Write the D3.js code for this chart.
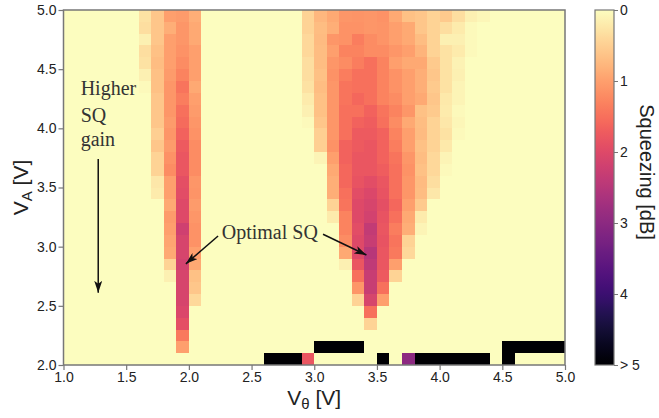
<!DOCTYPE html>
<html><head><meta charset="utf-8">
<script src="https://cdn.jsdelivr.net/npm/d3@7/dist/d3.min.js"></script>
<style>body{margin:0;background:#fff}svg{display:block}</style>
</head><body>
<svg id="chart" width="659" height="418"></svg>
<script>
// ---- data ----
// cell left edges of V_theta (V)
const vTheta = [1.0,1.1,1.2,1.3,1.4,1.5,1.6,1.7,1.8,1.9,2.0,2.1,2.2,2.3,2.4,2.5,2.6,2.7,2.8,2.9,
                3.0,3.1,3.2,3.3,3.4,3.5,3.6,3.7,3.8,3.9,4.0,4.1,4.2,4.3,4.4,4.5,4.6,4.7,4.8,4.9];
// cell bottom edges of V_A (V), listed top row first
const vA = [4.9,4.8,4.7,4.6,4.5,4.4,4.3,4.2,4.1,4.0,3.9,3.8,3.7,3.6,3.5,3.4,3.3,3.2,3.1,3.0,
            2.9,2.8,2.7,2.6,2.5,2.4,2.3,2.2,2.1,2.0];
const cellStep = 0.1;

// left lobe: columns V_theta = 1.6 .. 2.0, rows from V_A = 4.9 downward
const leftLobeCols = [1.6,1.7,1.8,1.9,2.0];
const leftLobe = [
  [0.30,0.60,1.00,1.05,0.85],
  [0.35,0.60,0.85,1.10,0.90],
  [0.15,0.60,1.00,1.10,0.90],
  [0.35,0.65,1.00,1.15,1.00],
  [0.30,0.70,1.00,1.20,1.00],
  [0.15,0.65,1.05,1.30,1.00],
  [0.05,0.65,1.10,1.45,0.90],
  [0.00,0.60,1.10,1.35,1.00],
  [0.00,0.60,1.10,1.50,1.05],
  [0.00,0.60,1.05,1.55,1.10],
  [0.00,0.50,1.10,1.65,1.15],
  [0.00,0.60,1.05,1.75,1.20],
  [0.00,0.45,1.15,1.80,1.20],
  [0.00,0.45,1.20,1.80,1.20],
  [0.00,0.25,1.00,1.90,1.10],
  [0.00,0.20,1.00,1.95,1.12],
  [0.00,0.00,0.90,2.00,1.05],
  [0.00,0.00,1.05,2.00,1.10],
  [0.00,0.00,1.00,2.20,1.15],
  [0.00,0.00,0.95,2.10,1.15],
  [0.00,0.00,0.90,2.10,1.00],
  [0.00,0.00,0.45,2.15,0.90],
  [0.00,0.00,0.15,2.10,0.65],
  [0.00,0.00,0.00,2.10,0.60],
  [0.00,0.00,0.00,2.10,0.40],
  [0.00,0.00,0.00,2.05,0.00],
  [0.00,0.00,0.00,1.90,0.00],
  [0.00,0.00,0.00,1.40,0.00],
  [0.00,0.00,0.00,1.00,0.00]
];

// right lobe: columns V_theta = 2.9 .. 4.3, rows from V_A = 4.9 downward
const rightLobeCols = [2.9,3.0,3.1,3.2,3.3,3.4,3.5,3.6,3.7,3.8,3.9,4.0,4.1,4.2,4.3];
const rightLobe = [
  [0.45,0.75,0.90,1.10,1.12,1.10,1.15,0.90,0.65,0.60,0.45,0.55,0.35,0.15,0.08],
  [0.45,0.70,0.85,1.15,1.15,1.10,1.12,1.00,0.90,0.60,0.45,0.35,0.20,0.05,0],
  [0.40,0.72,1.10,1.15,1.35,1.20,1.12,1.00,0.90,0.70,0.45,0.15,0.15,0.05,0],
  [0.40,0.70,1.00,1.30,1.30,1.20,1.20,1.10,1.00,0.80,0.45,0.30,0.20,0.05,0],
  [0.35,0.70,1.10,1.20,1.35,1.50,1.30,1.00,0.90,0.90,0.55,0.30,0.12,0,0],
  [0.35,0.65,1.15,1.35,1.50,1.50,1.30,1.15,1.00,0.85,0.60,0.30,0.15,0,0],
  [0.30,0.70,1.10,1.45,1.50,1.50,1.30,1.15,1.00,0.85,0.55,0.30,0.10,0,0],
  [0.20,0.65,1.10,1.45,1.60,1.50,1.30,1.20,1.00,0.90,0.60,0.22,0.10,0,0],
  [0.15,0.65,1.10,1.50,1.50,1.65,1.45,1.30,1.10,0.65,0.55,0.20,0.05,0,0],
  [0.05,0.60,1.10,1.50,1.65,1.70,1.50,1.20,0.90,0.70,0.45,0.25,0.08,0,0],
  [0,0.50,1.10,1.50,1.75,1.75,1.65,1.30,1.00,0.72,0.45,0.30,0.05,0,0],
  [0,0.50,1.15,1.65,1.75,1.80,1.65,1.35,1.00,0.65,0.45,0.22,0,0,0],
  [0,0.10,1.00,1.65,1.80,1.80,1.65,1.45,1.10,0.70,0.40,0.10,0,0,0],
  [0,0,0.90,1.60,1.80,1.80,1.70,1.50,1.15,0.65,0.40,0.05,0,0,0],
  [0,0,0.85,1.60,1.85,1.95,1.80,1.50,1.10,0.72,0.35,0,0,0,0],
  [0,0,0.85,1.50,1.95,2.05,1.85,1.50,1.10,0.70,0.25,0,0,0,0],
  [0,0,0.45,1.45,2.00,2.10,1.90,1.60,1.00,0.55,0,0,0,0,0],
  [0,0,0.20,1.30,2.00,2.15,1.85,1.50,0.90,0.20,0,0,0,0,0],
  [0,0,0,1.30,1.95,2.35,1.80,1.35,0.85,0.10,0,0,0,0,0],
  [0,0,0,1.20,2.00,2.30,1.85,1.45,0.45,0,0,0,0,0,0],
  [0,0,0,0.90,2.00,2.50,1.80,1.40,0.40,0,0,0,0,0,0],
  [0,0,0,0.15,1.80,2.40,1.80,1.00,0,0,0,0,0,0,0],
  [0,0,0,0,1.50,2.30,1.75,0.45,0,0,0,0,0,0,0],
  [0,0,0,0,1.10,2.30,1.50,0,0,0,0,0,0,0,0],
  [0,0,0,0,0.45,2.10,1.00,0,0,0,0,0,0,0,0],
  [0,0,0,0,0,1.50,0,0,0,0,0,0,0,0,0],
  [0,0,0,0,0,0.45,0,0,0,0,0,0,0,0,0]
];

// bottom rows (V_A = 2.1 and 2.0)
const row21Cols = [3.0,3.1,3.2,3.3,4.5,4.6,4.7,4.8,4.9];
const row21Vals = [5,5,5,5,5,5,5,5,5];
const row20Cols = [2.6,2.7,2.8,2.9,3.5,3.7,3.8,3.9,4.0,4.1,4.2,4.3,4.5];
const row20Vals = [5,5,5,1.8,5,3.0,5,5,5,5,5,5,5];

const xTicks = [1.0,1.5,2.0,2.5,3.0,3.5,4.0,4.5,5.0];
const yTicks = [2.0,2.5,3.0,3.5,4.0,4.5,5.0];
const cbTicks = [0,1,2,3,4,5];
const cbLabels = ["0","1","2","3","4","> 5"];

// ---- build grid ----
const key = (a,b)=> a.toFixed(1)+"|"+b.toFixed(1);
const valueMap = new Map();
leftLobe.forEach((row,k)=>row.forEach((v,j)=>{ if(v>0) valueMap.set(key(leftLobeCols[j], vA[k]), v); }));
rightLobe.forEach((row,k)=>row.forEach((v,j)=>{ if(v>0) valueMap.set(key(rightLobeCols[j], vA[k]), v); }));
row21Cols.forEach((c,j)=>valueMap.set(key(c,2.1), row21Vals[j]));
row20Cols.forEach((c,j)=>valueMap.set(key(c,2.0), row20Vals[j]));
const cells = [];
vA.forEach(a=>vTheta.forEach(t=>cells.push({t, a, v: valueMap.get(key(t,a)) || 0})));

// ---- scales ----
const svg = d3.select("#chart");
const L=63.5, R=565, T=10, B=365;
const x = d3.scaleLinear().domain([1,5]).range([L,R]);
const y = d3.scaleLinear().domain([2,5]).range([B,T]);
const color = d3.scaleSequential(t=>d3.interpolateMagma(1-t)).domain([0,5]).clamp(true);
const nx = v => Math.round(x(Math.round(v*10)/10));
const ny = v => Math.round(y(Math.round(v*10)/10));

const sans = "'Liberation Sans', Arial, sans-serif";
const serif = "'Liberation Serif', 'Times New Roman', serif";

// ---- cells ----
svg.append("g").selectAll("rect").data(cells).join("rect")
  .attr("x", d=>nx(d.t))
  .attr("y", d=>ny(d.a+cellStep))
  .attr("width", d=>nx(d.t+cellStep)-nx(d.t))
  .attr("height", d=>ny(d.a)-ny(d.a+cellStep))
  .attr("fill", d=>color(d.v))
  .attr("shape-rendering","crispEdges");

// ---- axes ----
const gx = svg.append("g").attr("transform",`translate(0,${B})`)
  .call(d3.axisBottom(x).tickValues(xTicks).tickFormat(d3.format(".1f")).tickSize(5).tickPadding(2));
const gy = svg.append("g").attr("transform",`translate(${L},0)`)
  .call(d3.axisLeft(y).tickValues(yTicks).tickFormat(d3.format(".1f")).tickSize(5).tickPadding(2));
[gx,gy].forEach(g=>{
  g.selectAll("text").attr("font-family",sans).attr("font-size",14).attr("fill","#222");
  g.selectAll("line").attr("stroke","#777").attr("stroke-width",1.2);
  g.select(".domain").remove();
});
svg.append("rect").attr("x",L).attr("y",T).attr("width",R-L).attr("height",B-T)
  .attr("fill","none").attr("stroke","#777").attr("stroke-width",1.5);

// axis labels
const xl = svg.append("text").attr("x",(L+R)/2).attr("y",405).attr("text-anchor","middle")
  .attr("font-family",sans).attr("font-size",21).attr("fill","#222");
xl.append("tspan").text("V");
xl.append("tspan").attr("font-size",15).attr("dy",4).text("θ");
xl.append("tspan").attr("dy",-4).text(" [V]");

const yl = svg.append("text").attr("transform",`translate(28,${(T+B)/2}) rotate(-90)`).attr("text-anchor","middle")
  .attr("font-family",sans).attr("font-size",21).attr("fill","#222");
yl.append("tspan").text("V");
yl.append("tspan").attr("font-size",15).attr("dy",4).text("A");
yl.append("tspan").attr("dy",-4).text(" [V]");

// ---- colorbar ----
const cbX=595, cbW=19;
const cbY = d3.scaleLinear().domain([0,5]).range([T,B]);
const defs = svg.append("defs");
const grad = defs.append("linearGradient").attr("id","cbgrad").attr("x1",0).attr("y1",0).attr("x2",0).attr("y2",1);
d3.range(0,1.0001,0.02).forEach(s=>grad.append("stop").attr("offset",s).attr("stop-color",color(s*5)));
svg.append("rect").attr("x",cbX).attr("y",T).attr("width",cbW).attr("height",B-T)
  .attr("fill","url(#cbgrad)").attr("stroke","#777").attr("stroke-width",1.2);
const gcb = svg.append("g").attr("transform",`translate(${cbX+cbW},0)`)
  .call(d3.axisRight(cbY).tickValues(cbTicks).tickFormat((d,i)=>cbLabels[i]).tickSize(4).tickPadding(2));
gcb.select(".domain").remove();
gcb.selectAll("text").attr("font-family",sans).attr("font-size",14).attr("fill","#222");
gcb.selectAll("line").attr("stroke","#777");
svg.append("text").attr("transform",`translate(640,172) rotate(90)`).attr("text-anchor","middle")
  .attr("font-family",sans).attr("font-size",20).attr("fill","#222").text("Squeezing [dB]");

// ---- annotations (data coordinates) ----
defs.append("marker").attr("id","ah").attr("viewBox","0 0 12 8").attr("refX",12).attr("refY",4)
  .attr("markerWidth",12).attr("markerHeight",8).attr("markerUnits","userSpaceOnUse").attr("orient","auto")
  .append("path").attr("d","M0,0 L12,4 L0,8 L3,4 Z").attr("fill","#111");

const higherLines = ["Higher","SQ","gain"];
const higherY = [4.28,4.055,3.85];
higherLines.forEach((s,i)=>svg.append("text").attr("x",x(1.137)).attr("y",y(higherY[i]))
  .attr("font-family",serif).attr("font-size",20).attr("fill","#333").text(s));
svg.append("text").attr("x",x(2.262)).attr("y",y(3.065))
  .attr("font-family",serif).attr("font-size",20).attr("fill","#333").text("Optimal SQ");

const arrows = [
  {x1:1.277,y1:3.74,x2:1.277,y2:2.61},
  {x1:2.233,y1:3.09,x2:1.976,y2:2.855},
  {x1:3.07,y1:3.105,x2:3.416,y2:2.93}
];
svg.append("g").selectAll("line").data(arrows).join("line")
  .attr("x1",d=>x(d.x1)).attr("y1",d=>y(d.y1)).attr("x2",d=>x(d.x2)).attr("y2",d=>y(d.y2))
  .attr("stroke","#111").attr("stroke-width",1.5).attr("marker-end","url(#ah)");
</script>
</body></html>
